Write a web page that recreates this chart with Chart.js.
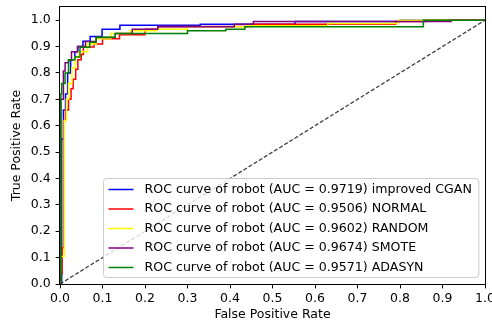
<!DOCTYPE html>
<html>
<head>
<meta charset="utf-8">
<script src="https://cdn.jsdelivr.net/npm/chart.js@4"></script>
<style>
  html, body { margin: 0; padding: 0; background: #fff; }
  #wrap { width: 492px; height: 326px; }
</style>
</head>
<body>
<div id="wrap"><canvas id="roc" width="492" height="326"></canvas></div>
<script>
// series names + AUC values
const methods = ['improved CGAN', 'NORMAL', 'RANDOM', 'SMOTE', 'ADASYN'];
const aucs = [0.9719, 0.9506, 0.9602, 0.9674, 0.9571];

// ROC points (fpr, tpr)
const fprCgan = [0, 0.004, 0.004, 0.008, 0.008, 0.013, 0.013, 0.018, 0.018, 0.025, 0.025, 0.035, 0.035, 0.042, 0.042, 0.054, 0.054, 0.071, 0.071, 0.099, 0.099, 0.141, 0.141, 0.33, 0.33, 0.553, 0.553, 0.8, 0.8, 1];
const tprCgan = [0, 0, 0.55, 0.55, 0.66, 0.66, 0.72, 0.72, 0.8, 0.8, 0.85, 0.85, 0.88, 0.88, 0.9, 0.9, 0.92, 0.92, 0.938, 0.938, 0.966, 0.966, 0.981, 0.981, 0.985, 0.985, 0.995, 0.995, 1, 1];

const fprNormal = [0, 0.002, 0.002, 0.005, 0.005, 0.009, 0.009, 0.013, 0.013, 0.02, 0.02, 0.026, 0.026, 0.031, 0.031, 0.037, 0.037, 0.042, 0.042, 0.05, 0.05, 0.055, 0.055, 0.08, 0.08, 0.1, 0.1, 0.14, 0.14, 0.2, 0.2, 0.23, 0.23, 0.45, 0.45, 0.79, 0.79, 0.86, 0.86, 1];
const tprNormal = [0, 0, 0.04, 0.04, 0.137, 0.137, 0.62, 0.62, 0.66, 0.66, 0.7, 0.7, 0.74, 0.74, 0.776, 0.776, 0.814, 0.814, 0.85, 0.85, 0.87, 0.87, 0.898, 0.898, 0.91, 0.91, 0.93, 0.93, 0.945, 0.945, 0.966, 0.966, 0.976, 0.976, 0.985, 0.985, 0.995, 0.995, 1, 1];

const fprRandom = [0, 0, 0.003, 0.003, 0.01, 0.01, 0.015, 0.015, 0.02, 0.02, 0.028, 0.028, 0.035, 0.035, 0.045, 0.045, 0.065, 0.065, 0.085, 0.085, 0.12, 0.12, 0.165, 0.165, 0.228, 0.228, 0.3, 0.3, 0.44, 0.44, 0.63, 0.63, 0.795, 0.795, 1];
const tprRandom = [0, 0.047, 0.047, 0.104, 0.104, 0.62, 0.62, 0.7, 0.7, 0.76, 0.76, 0.82, 0.82, 0.86, 0.86, 0.88, 0.88, 0.91, 0.91, 0.93, 0.93, 0.95, 0.95, 0.96, 0.96, 0.966, 0.966, 0.975, 0.975, 0.979, 0.979, 0.987, 0.987, 1, 1];

const fprSmote = [0, 0.002, 0.002, 0.008, 0.008, 0.012, 0.012, 0.02, 0.02, 0.027, 0.027, 0.041, 0.041, 0.06, 0.06, 0.085, 0.085, 0.13, 0.13, 0.17, 0.17, 0.23, 0.23, 0.41, 0.41, 0.455, 0.455, 0.92, 0.92, 1];
const tprSmote = [0, 0, 0.7, 0.7, 0.807, 0.807, 0.839, 0.839, 0.848, 0.848, 0.88, 0.88, 0.9, 0.9, 0.919, 0.919, 0.934, 0.934, 0.95, 0.95, 0.966, 0.966, 0.975, 0.975, 0.985, 0.985, 0.995, 0.995, 1, 1];

const fprAdasyn = [0, 0.002, 0.004, 0.004, 0.012, 0.012, 0.02, 0.02, 0.035, 0.035, 0.047, 0.047, 0.07, 0.07, 0.085, 0.085, 0.13, 0.13, 0.3, 0.3, 0.39, 0.39, 0.435, 0.435, 0.855, 0.855, 1];
const tprAdasyn = [0, 0.72, 0.72, 0.76, 0.76, 0.8, 0.8, 0.85, 0.85, 0.86, 0.86, 0.897, 0.897, 0.916, 0.916, 0.935, 0.935, 0.95, 0.95, 0.96, 0.96, 0.966, 0.966, 0.975, 0.975, 1, 1];

// chance line
const chanceFpr = [0, 1];
const chanceTpr = [0, 1];

const rateTicks = [0, 0.1, 0.2, 0.3, 0.4, 0.5, 0.6, 0.7, 0.8, 0.9, 1.0];

const fprs = [fprCgan, fprNormal, fprRandom, fprSmote, fprAdasyn];
const tprs = [tprCgan, tprNormal, tprRandom, tprSmote, tprAdasyn];
const colors = ['#0000ff', '#ff0000', '#ffff00', '#800080', '#008000'];

const toPoints = (xs, ys) => xs.map((x, i) => ({ x: x, y: ys[i] }));
const labels = methods.map((m, i) => 'ROC curve of robot (AUC = ' + aucs[i].toFixed(4) + ') ' + m);

const datasets = methods.map((m, i) => ({
  label: labels[i],
  data: toPoints(fprs[i], tprs[i]),
  showLine: true,
  borderColor: colors[i],
  borderWidth: 1.5,
  pointRadius: 0,
  tension: 0,
  fill: false,
  order: methods.length - 1 - i // later series on top, like matplotlib
}));
datasets.push({
  label: 'chance',
  data: toPoints(chanceFpr, chanceTpr),
  showLine: true,
  borderColor: '#404040',
  borderWidth: 1.3,
  borderDash: [4, 2],
  pointRadius: 0,
  fill: false,
  order: -1
});

const font = { family: '"DejaVu Sans", sans-serif', size: 12.5 };

// box round the axes + legend inside lower right
const frameAndLegend = {
  id: 'frameAndLegend',
  afterDraw(chart) {
    const { ctx, chartArea: a } = chart;
    ctx.save();
    ctx.strokeStyle = '#000';
    ctx.lineWidth = 1;
    ctx.strokeRect(a.left - 0.5, a.top - 0.5, a.right - a.left + 1, a.bottom - a.top + 1);

    ctx.font = '12.6px "DejaVu Sans", sans-serif';
    const textW = Math.max(...labels.map(t => ctx.measureText(t).width));
    const rowH = 19.5;
    const boxW = 5 + 25 + 11 + textW + 7;
    const boxH = rowH * (labels.length - 1) + 21;
    const x0 = Math.round(a.right - 7 - boxW) + 0.5;
    const y0 = Math.round(a.bottom - 7 - boxH) + 0.5;
    const r = 3;
    ctx.beginPath();
    ctx.moveTo(x0 + r, y0);
    ctx.lineTo(x0 + boxW - r, y0);
    ctx.arcTo(x0 + boxW, y0, x0 + boxW, y0 + r, r);
    ctx.lineTo(x0 + boxW, y0 + boxH - r);
    ctx.arcTo(x0 + boxW, y0 + boxH, x0 + boxW - r, y0 + boxH, r);
    ctx.lineTo(x0 + r, y0 + boxH);
    ctx.arcTo(x0, y0 + boxH, x0, y0 + boxH - r, r);
    ctx.lineTo(x0, y0 + r);
    ctx.arcTo(x0, y0, x0 + r, y0, r);
    ctx.closePath();
    ctx.fillStyle = 'rgba(255,255,255,0.8)';
    ctx.fill();
    ctx.strokeStyle = '#cccccc';
    ctx.stroke();

    ctx.textBaseline = 'middle';
    ctx.textAlign = 'left';
    labels.forEach((t, i) => {
      const cy = y0 + 11 + i * rowH;
      ctx.beginPath();
      ctx.moveTo(x0 + 5, cy);
      ctx.lineTo(x0 + 30, cy);
      ctx.strokeStyle = colors[i];
      ctx.lineWidth = 1.5;
      ctx.stroke();
      ctx.fillStyle = '#000';
      ctx.fillText(t, x0 + 41, cy);
    });
    ctx.restore();
  }
};

const tickGrid = { display: true, drawOnChartArea: false, drawTicks: true, tickLength: 4.4, color: '#000', lineWidth: 1 };

new Chart(document.getElementById('roc').getContext('2d'), {
  type: 'scatter',
  data: { datasets: datasets },
  plugins: [frameAndLegend],
  options: {
    responsive: false,
    animation: false,
    devicePixelRatio: 1,
    layout: { padding: { top: 7, right: 7, left: 0, bottom: 0 } },
    plugins: { legend: { display: false }, tooltip: { enabled: false } },
    scales: {
      x: {
        type: 'linear',
        min: 0,
        max: 1,
        afterBuildTicks: s => { s.ticks = rateTicks.map(v => ({ value: v })); },
        afterFit: s => { s.height = 42; s.paddingLeft = 0; s.paddingRight = 0; },
        ticks: { callback: v => v.toFixed(1), font: font, color: '#000', padding: 3, maxRotation: 0, autoSkip: false },
        grid: tickGrid,
        border: { display: false },
        title: { display: true, text: 'False Positive Rate', font: font, color: '#000', padding: { top: 0, bottom: 4 } }
      },
      y: {
        type: 'linear',
        min: 0,
        max: 1.05,
        afterBuildTicks: s => { s.ticks = rateTicks.map(v => ({ value: v })); },
        afterFit: s => { s.width = 60; s.paddingTop = 0; s.paddingBottom = 0; },
        ticks: { callback: v => v.toFixed(1), font: font, color: '#000', padding: 5, autoSkip: false },
        grid: tickGrid,
        border: { display: false },
        title: { display: true, text: 'True Positive Rate', font: font, color: '#000', padding: { top: 9.5, bottom: 0 } }
      }
    }
  }
});
</script>
</body>
</html>
